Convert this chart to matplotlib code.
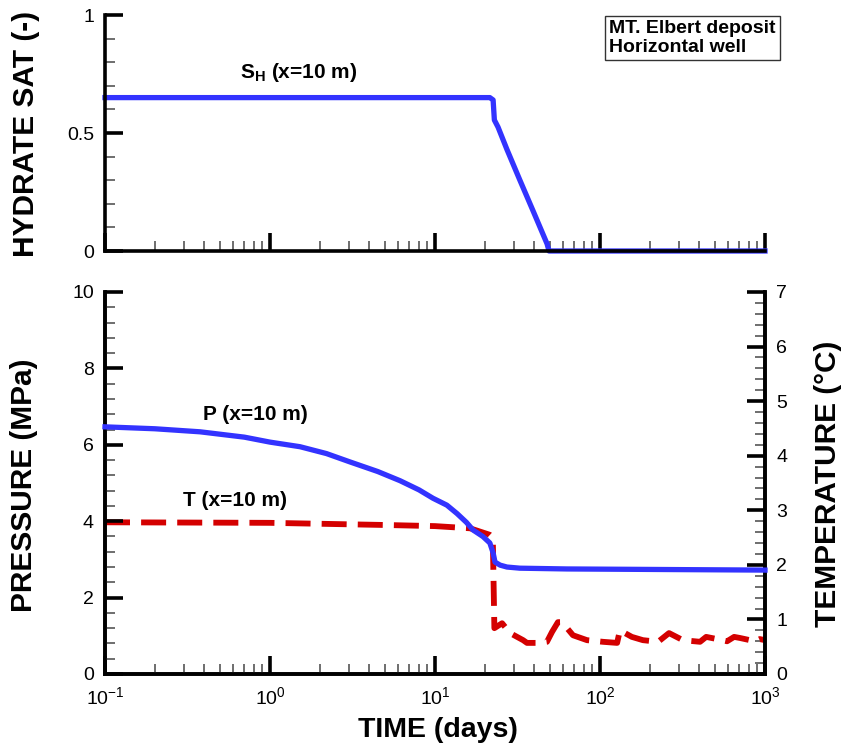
import matplotlib
matplotlib.use("Agg")
import matplotlib.pyplot as plt
from matplotlib.ticker import MultipleLocator, LogLocator, NullFormatter, LogFormatterSciNotation

# ---------------- data ----------------
sh_time = [0.1, 21.5, 22.5, 22.9, 24.1, 27.3, 32.7, 39.3, 47.8, 49.1, 1000]
sh_val = [0.65, 0.65, 0.64, 0.555, 0.525, 0.43, 0.30, 0.17, 0.03, 0.0, 0.0]

p_time = [0.1, 0.2, 0.377, 0.7, 1.0, 1.52, 2.2, 3.06, 4.5, 6.14, 8.0, 9.73, 11.8, 13.6,
          15.5, 17.0, 19.5, 21.5, 22.5, 23.1, 24.8, 27.3, 32.7, 63, 1000]
p_val = [6.47, 6.42, 6.34, 6.2, 6.07, 5.95, 5.77, 5.55, 5.3, 5.06, 4.82, 4.6, 4.42, 4.2,
         3.97, 3.77, 3.6, 3.43, 3.17, 2.93, 2.85, 2.80, 2.77, 2.75, 2.72]

t_time = [0.1, 1.0, 5.1, 10.0, 16.3, 21.5, 22.4, 22.9, 25.5, 28.5, 34.2, 36.1,
          43.3, 47.7, 51.2, 55.6, 58.9, 68.6, 83.4, 104, 127, 132, 156, 182,
          225, 262, 318, 404, 440, 512, 589, 650, 705, 869, 930, 1000]
t_val = [2.78, 2.77, 2.73, 2.71, 2.67, 2.55, 2.5, 0.84, 0.93, 0.75, 0.62, 0.57,
         0.57, 0.59, 0.77, 0.95, 0.95, 0.71, 0.62, 0.59, 0.57, 0.80, 0.68, 0.62,
         0.59, 0.75, 0.62, 0.59, 0.68, 0.64, 0.60, 0.68, 0.66, 0.60, 0.64, 0.62]

x_limits = (0.1, 1000)
sh_limits = (0, 1)
p_limits = (0, 10)
t_limits = (0, 7)
sh_ticks = [0, 0.5, 1]
p_ticks = [0, 2, 4, 6, 8, 10]
t_ticks = [0, 1, 2, 3, 4, 5, 6, 7]

# ---------------- style ----------------
plt.rcParams['font.family'] = ['Liberation Sans', 'DejaVu Sans']
plt.rcParams['mathtext.fontset'] = 'custom'
plt.rcParams['mathtext.rm'] = 'Liberation Sans'
plt.rcParams['mathtext.it'] = 'Liberation Sans:italic'
plt.rcParams['mathtext.bf'] = 'Liberation Sans:bold'
plt.rcParams['lines.scale_dashes'] = False

BLUE = '#3333ff'
RED = '#d40000'
W, H = 845, 749

fig = plt.figure(figsize=(W / 100, H / 100), dpi=100)

def box(l, t, r, b):
    return [l / W, 1 - b / H, (r - l) / W, (b - t) / H]

ax1 = fig.add_axes(box(105, 15, 765, 251))
ax2 = fig.add_axes(box(105, 292, 765, 674))
ax3 = ax2.twinx()

def style_ticks(ax):
    ax.tick_params(which='major', direction='in', length=13, width=2.6,
                   labelsize=14, pad=8, color='black')
    ax.tick_params(which='minor', direction='in', length=7, width=1.2,
                   color='#555555')

for ax in (ax1, ax2, ax3):
    for s in ax.spines.values():
        s.set_linewidth(2.6)
    ax.spines['top'].set_visible(False)

ax1.spines['right'].set_visible(False)

# top panel
ax1.plot(sh_time, sh_val, color=BLUE, lw=3.8, clip_on=False, zorder=2)
ax1.set_xscale('log')
ax1.set_xlim(*x_limits)
ax1.set_ylim(*sh_limits)
ax1.set_yticks(sh_ticks)
ax1.set_yticklabels(['0', '0.5', '1'])
ax1.yaxis.set_minor_locator(MultipleLocator(0.1))
ax1.xaxis.set_major_locator(LogLocator(base=10, numticks=10))
ax1.xaxis.set_minor_locator(LogLocator(base=10, subs=range(2, 10), numticks=20))
ax1.xaxis.set_major_formatter(NullFormatter())
ax1.xaxis.set_minor_formatter(NullFormatter())
style_ticks(ax1)
ax1.text(1.5, 0.755, r'S$_{\mathregular{H}}$ (x=10 m)', fontsize=15, fontweight='bold',
         ha='center', va='center')

# bottom panel
ax2.plot(p_time, p_val, color=BLUE, lw=3.8, clip_on=False, zorder=3)
ax3.plot(t_time, t_val, color=RED, lw=4.2, dashes=(18, 8), clip_on=False, zorder=2)
ax2.set_zorder(ax3.get_zorder() + 1)
ax2.patch.set_visible(False)
ax2.set_xscale('log')
ax2.set_xlim(*x_limits)
ax2.set_ylim(*p_limits)
ax3.set_ylim(*t_limits)
ax2.set_yticks(p_ticks)
ax3.set_yticks(t_ticks)
ax2.yaxis.set_minor_locator(MultipleLocator(0.4))
ax3.yaxis.set_minor_locator(MultipleLocator(0.2))
ax2.xaxis.set_major_locator(LogLocator(base=10, numticks=10))
ax2.xaxis.set_minor_locator(LogLocator(base=10, subs=range(2, 10), numticks=20))
ax2.xaxis.set_major_formatter(LogFormatterSciNotation())
ax2.xaxis.set_minor_formatter(NullFormatter())
style_ticks(ax2)
style_ticks(ax3)
ax2.tick_params(axis='x', which='major', pad=9)

ax2.text(0.81, 6.8, 'P (x=10 m)', fontsize=15, fontweight='bold', ha='center', va='center')
ax2.text(0.61, 4.55, 'T (x=10 m)', fontsize=15, fontweight='bold', ha='center', va='center')

# axis labels
fig.text(26 / W, 1 - 134 / H, 'HYDRATE SAT (-)', rotation=90, fontsize=21.5,
         fontweight='bold', ha='center', va='center')
fig.text(24 / W, 1 - 485 / H, 'PRESSURE (MPa)', rotation=90, fontsize=21.5,
         fontweight='bold', ha='center', va='center')
fig.text(828 / W, 1 - 484 / H, 'TEMPERATURE (\u00b0C)', rotation=90, fontsize=21.5,
         fontweight='bold', ha='center', va='center')
fig.text(438 / W, 1 - 730 / H, 'TIME (days)', fontsize=20.5, fontweight='bold',
         ha='center', va='center')

# annotation box
fig.text(609 / W, 1 - 38 / H, 'MT. Elbert deposit\nHorizontal well', fontsize=14,
         fontweight='bold', ha='left', va='center', linespacing=1.1,
         bbox=dict(boxstyle='square,pad=0.22', facecolor='white', edgecolor='#333333', lw=1.0))

fig.savefig('out.png', dpi=100)
